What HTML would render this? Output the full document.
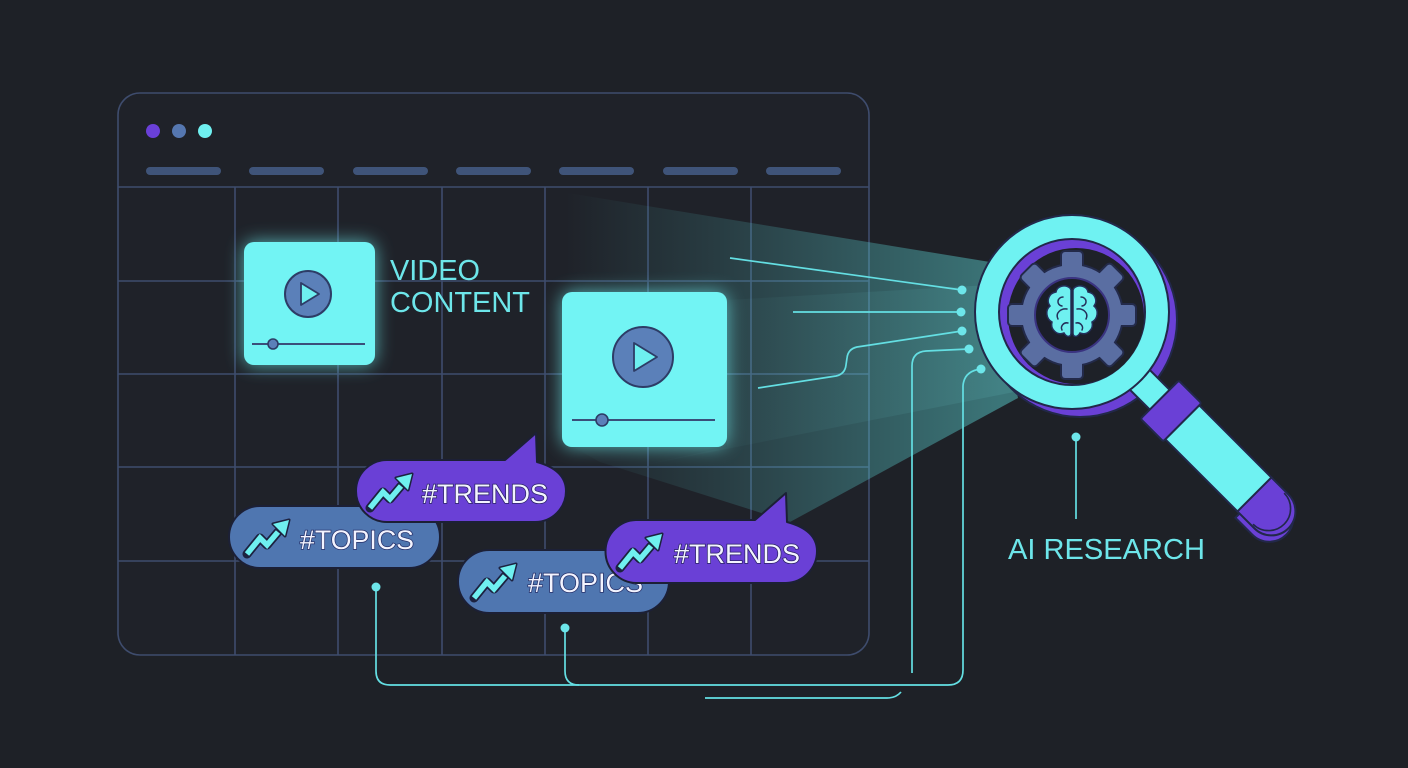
<!DOCTYPE html>
<html><head><meta charset="utf-8"><style>
html,body{margin:0;padding:0;background:#1e2127;}
svg{display:block;}
text{font-family:"Liberation Sans",sans-serif;}
</style></head><body>
<svg width="1408" height="768" viewBox="0 0 1408 768" xmlns="http://www.w3.org/2000/svg">
<defs>
<filter id="glow" x="-40%" y="-40%" width="180%" height="180%"><feGaussianBlur stdDeviation="9"/></filter>
<linearGradient id="beam" x1="565" y1="0" x2="1000" y2="0" gradientUnits="userSpaceOnUse">
<stop offset="0" stop-color="#5fdcdc" stop-opacity="0"/>
<stop offset="0.35" stop-color="#5fdcdc" stop-opacity="0.14"/>
<stop offset="1" stop-color="#5fdcdc" stop-opacity="0.45"/>
</linearGradient>
<linearGradient id="beam2" x1="620" y1="0" x2="1010" y2="0" gradientUnits="userSpaceOnUse">
<stop offset="0" stop-color="#7ff0f0" stop-opacity="0.0"/>
<stop offset="1" stop-color="#7ff0f0" stop-opacity="0.10"/>
</linearGradient>
</defs>
<rect width="1408" height="768" fill="#1e2127"/>

<!-- browser frame -->
<rect x="118" y="93" width="751" height="562" rx="22" fill="#1f2229" stroke="#3e4c6d" stroke-width="1.6"/>
<circle cx="153" cy="131" r="7" fill="#6a40d8"/>
<circle cx="179" cy="131" r="7" fill="#5577b0"/>
<circle cx="205" cy="131" r="7" fill="#6ff0f0"/>
<g fill="#3f5479">
<rect x="146" y="167" width="75" height="8" rx="4"/>
<rect x="249" y="167" width="75" height="8" rx="4"/>
<rect x="353" y="167" width="75" height="8" rx="4"/>
<rect x="456" y="167" width="75" height="8" rx="4"/>
<rect x="559" y="167" width="75" height="8" rx="4"/>
<rect x="663" y="167" width="75" height="8" rx="4"/>
<rect x="766" y="167" width="75" height="8" rx="4"/>
</g>
<g stroke="#3e4c6d" stroke-width="1.6" fill="none">
<line x1="118" y1="187" x2="869" y2="187"/>
<line x1="118" y1="281" x2="869" y2="281"/>
<line x1="118" y1="374" x2="869" y2="374"/>
<line x1="118" y1="467" x2="869" y2="467"/>
<line x1="118" y1="561" x2="869" y2="561"/>
<line x1="235" y1="187" x2="235" y2="655"/>
<line x1="338" y1="187" x2="338" y2="655"/>
<line x1="442" y1="187" x2="442" y2="655"/>
<line x1="545" y1="187" x2="545" y2="655"/>
<line x1="648" y1="187" x2="648" y2="655"/>
<line x1="751" y1="187" x2="751" y2="655"/>
</g>

<!-- beam -->
<polygon points="568,193 990,262 1018,398 790,522 600,462 560,440" fill="url(#beam)"/>
<polygon points="727,300 990,285 1014,392 620,470 727,447" fill="url(#beam2)"/>

<!-- video card 1 -->
<rect x="244" y="242" width="131" height="123" rx="10" fill="#6ff2f2" opacity="0.7" filter="url(#glow)"/>
<rect x="244" y="242" width="131" height="123" rx="10" fill="#72f4f4"/>
<circle cx="308" cy="294" r="23" fill="#5b80b9" stroke="#2d3c66" stroke-width="2"/>
<polygon points="301,283 301,305 319,294" fill="#6ef0f0" stroke="#2d3c66" stroke-width="1.8" stroke-linejoin="round"/>
<line x1="252" y1="344" x2="365" y2="344" stroke="#3a4f7a" stroke-width="2"/>
<circle cx="273" cy="344" r="5" fill="#5b80b9" stroke="#2d3c66" stroke-width="1.6"/>

<text x="390" y="280" font-size="29" fill="#6de6ea" textLength="90" lengthAdjust="spacingAndGlyphs">VIDEO</text>
<text x="390" y="312" font-size="29" fill="#6de6ea" textLength="140" lengthAdjust="spacingAndGlyphs">CONTENT</text>

<!-- video card 2 -->
<rect x="562" y="292" width="165" height="155" rx="10" fill="#6ff2f2" opacity="0.7" filter="url(#glow)"/>
<rect x="562" y="292" width="165" height="155" rx="10" fill="#72f4f4"/>
<circle cx="643" cy="357" r="30" fill="#5b80b9" stroke="#2d3c66" stroke-width="2"/>
<polygon points="634,343 634,371 657,357" fill="#6ef0f0" stroke="#2d3c66" stroke-width="1.8" stroke-linejoin="round"/>
<line x1="572" y1="420" x2="715" y2="420" stroke="#3a4f7a" stroke-width="2"/>
<circle cx="602" cy="420" r="6" fill="#5b80b9" stroke="#2d3c66" stroke-width="1.6"/>

<!-- connectors -->
<g stroke="#64dfe3" stroke-width="1.7" fill="none">
<path d="M730,258 L962,290"/>
<path d="M793,312 L961,312"/>
<path d="M758,388 L836,376 Q845,374 846,365 L847,358 Q848,349 857,347 L962,331"/>
<path d="M969,349 L926,351 Q912,352 912,366 L912,673"/>
<path d="M981,369 Q964,371 963,386 L963,670 Q963,685 948,685 L390,685 Q376,685 376,671 L376,587"/>
<path d="M565,628 L565,671 Q565,685 579,685"/>
<path d="M705,698 L887,698 Q896,698 901,692"/>
<path d="M1076,437 L1076,519"/>
</g>
<g fill="#6de6ea">
<circle cx="962" cy="290" r="4.5"/>
<circle cx="961" cy="312" r="4.5"/>
<circle cx="962" cy="331" r="4.5"/>
<circle cx="969" cy="349" r="4.5"/>
<circle cx="981" cy="369" r="4.5"/>
<circle cx="376" cy="587" r="4.5"/>
<circle cx="565" cy="628" r="4.5"/>
<circle cx="1076" cy="437" r="4.5"/>
</g>

<!-- TOPICS 1 -->
<rect x="229" y="506" width="211" height="62" rx="31" fill="#4f76b0" stroke="#1c2036" stroke-width="2"/>
<g transform="translate(247,554)">
<polyline points="0,0 13,-16 20,-9 31,-22" fill="none" stroke="#1c2240" stroke-width="9" stroke-linejoin="round" stroke-linecap="round"/>
<polygon points="42,-34 26,-30 38,-18" fill="#1c2240" stroke="#1c2240" stroke-width="3" stroke-linejoin="round"/>
<polyline points="0,0 13,-16 20,-9 31,-22" fill="none" stroke="#6ff0f0" stroke-width="5.5"/>
<polygon points="42,-34 26,-30 38,-18" fill="#6ff0f0"/>
</g>
<text x="300" y="549" font-size="27" fill="#f3f4ff" stroke="#26306a" stroke-width="1.5" paint-order="stroke" textLength="114" lengthAdjust="spacingAndGlyphs">#TOPICS</text>

<!-- TRENDS 1 -->
<path d="M387,460 L505,460 L536,433 L537,462 Q566,470 566,491 A31,31 0 0 1 535,522 L387,522 A31,31 0 0 1 387,460 Z" fill="#6a40d6" stroke="#1c2036" stroke-width="2" stroke-linejoin="round"/>
<g transform="translate(370,508)">
<polyline points="0,0 13,-16 20,-9 31,-22" fill="none" stroke="#1c2240" stroke-width="9" stroke-linejoin="round" stroke-linecap="round"/>
<polygon points="42,-34 26,-30 38,-18" fill="#1c2240" stroke="#1c2240" stroke-width="3" stroke-linejoin="round"/>
<polyline points="0,0 13,-16 20,-9 31,-22" fill="none" stroke="#6ff0f0" stroke-width="5.5"/>
<polygon points="42,-34 26,-30 38,-18" fill="#6ff0f0"/>
</g>
<text x="422" y="503" font-size="27" fill="#f3f4ff" stroke="#2a2266" stroke-width="1.5" paint-order="stroke" textLength="126" lengthAdjust="spacingAndGlyphs">#TRENDS</text>

<!-- TOPICS 2 -->
<rect x="458" y="550" width="211" height="63" rx="31.5" fill="#4f76b0" stroke="#1c2036" stroke-width="2"/>
<g transform="translate(474,598)">
<polyline points="0,0 13,-16 20,-9 31,-22" fill="none" stroke="#1c2240" stroke-width="9" stroke-linejoin="round" stroke-linecap="round"/>
<polygon points="42,-34 26,-30 38,-18" fill="#1c2240" stroke="#1c2240" stroke-width="3" stroke-linejoin="round"/>
<polyline points="0,0 13,-16 20,-9 31,-22" fill="none" stroke="#6ff0f0" stroke-width="5.5"/>
<polygon points="42,-34 26,-30 38,-18" fill="#6ff0f0"/>
</g>
<text x="528" y="592" font-size="27" fill="#f3f4ff" stroke="#26306a" stroke-width="1.5" paint-order="stroke" textLength="115" lengthAdjust="spacingAndGlyphs">#TOPICS</text>

<!-- TRENDS 2 -->
<path d="M637,520 L755,520 L786,493 L787,522 Q817,530 817,551 A32,32 0 0 1 786,583 L637,583 A31.5,31.5 0 0 1 637,520 Z" fill="#6a40d6" stroke="#1c2036" stroke-width="2" stroke-linejoin="round"/>
<g transform="translate(620,568)">
<polyline points="0,0 13,-16 20,-9 31,-22" fill="none" stroke="#1c2240" stroke-width="9" stroke-linejoin="round" stroke-linecap="round"/>
<polygon points="42,-34 26,-30 38,-18" fill="#1c2240" stroke="#1c2240" stroke-width="3" stroke-linejoin="round"/>
<polyline points="0,0 13,-16 20,-9 31,-22" fill="none" stroke="#6ff0f0" stroke-width="5.5"/>
<polygon points="42,-34 26,-30 38,-18" fill="#6ff0f0"/>
</g>
<text x="674" y="563" font-size="27" fill="#f3f4ff" stroke="#2a2266" stroke-width="1.5" paint-order="stroke" textLength="126" lengthAdjust="spacingAndGlyphs">#TRENDS</text>

<!-- magnifier -->
<circle cx="1080" cy="320" r="97" fill="#6a40d6" stroke="#22284a" stroke-width="2"/>
<g transform="translate(1072,312) rotate(45)">
<rect x="88" y="-14" width="40" height="28" fill="#6ff2f2" stroke="#22284a" stroke-width="2"/>
</g>
<circle cx="1072" cy="312" r="97" fill="#6ff2f2" stroke="#22284a" stroke-width="2"/>
<circle cx="1072" cy="312" r="73" fill="#6a40d6" stroke="#22284a" stroke-width="2"/>
<circle cx="1076" cy="316" r="68" fill="#1e2128"/>
<!-- gear -->
<g transform="translate(1072,315)">
<g fill="#232a4a" stroke="#232a4a" stroke-width="4" stroke-linejoin="round">
<circle r="50"/>
<rect x="-10" y="-63" width="20" height="22" rx="3"/>
<rect x="-10" y="-63" width="20" height="22" rx="3" transform="rotate(45)"/>
<rect x="-10" y="-63" width="20" height="22" rx="3" transform="rotate(90)"/>
<rect x="-10" y="-63" width="20" height="22" rx="3" transform="rotate(135)"/>
<rect x="-10" y="-63" width="20" height="22" rx="3" transform="rotate(180)"/>
<rect x="-10" y="-63" width="20" height="22" rx="3" transform="rotate(225)"/>
<rect x="-10" y="-63" width="20" height="22" rx="3" transform="rotate(270)"/>
<rect x="-10" y="-63" width="20" height="22" rx="3" transform="rotate(315)"/>
</g>
<g fill="#5a6ea2">
<circle r="50"/>
<rect x="-10" y="-63" width="20" height="22" rx="3"/>
<rect x="-10" y="-63" width="20" height="22" rx="3" transform="rotate(45)"/>
<rect x="-10" y="-63" width="20" height="22" rx="3" transform="rotate(90)"/>
<rect x="-10" y="-63" width="20" height="22" rx="3" transform="rotate(135)"/>
<rect x="-10" y="-63" width="20" height="22" rx="3" transform="rotate(180)"/>
<rect x="-10" y="-63" width="20" height="22" rx="3" transform="rotate(225)"/>
<rect x="-10" y="-63" width="20" height="22" rx="3" transform="rotate(270)"/>
<rect x="-10" y="-63" width="20" height="22" rx="3" transform="rotate(315)"/>
</g>
<circle r="37" fill="#1b1e29" stroke="#3a3380" stroke-width="2"/>
</g>
<!-- brain -->
<g transform="translate(1072,312)" stroke="#24305a" stroke-width="1.5" stroke-linecap="round">
<g>
<path d="M -2,-24 C -7,-28 -15,-26 -16,-20 C -23,-19 -26,-11 -22,-6 C -27,-2 -26,7 -20,10 C -22,17 -15,24 -8,21 C -5,26 -1,25 -1,21 L -1,-22 Z" fill="#6ff0f0"/>
<path d="M -9,-15 C -15,-15 -16,-7 -10,-6 M -5,-3 C -11,-4 -17,1 -14,7 M -4,11 C -8,10 -12,14 -10,18" fill="none"/>
</g>
<g transform="scale(-1,1)">
<path d="M -2,-24 C -7,-28 -15,-26 -16,-20 C -23,-19 -26,-11 -22,-6 C -27,-2 -26,7 -20,10 C -22,17 -15,24 -8,21 C -5,26 -1,25 -1,21 L -1,-22 Z" fill="#6ff0f0"/>
<path d="M -9,-15 C -15,-15 -16,-7 -10,-6 M -5,-3 C -11,-4 -17,1 -14,7 M -4,11 C -8,10 -12,14 -10,18" fill="none"/>
</g>
</g>
<!-- handle -->
<g transform="translate(1072,312) rotate(45)" stroke="#22284a" stroke-width="2" stroke-linejoin="round">
<path d="M258,-24 L282,-24 A24,24 0 0 1 282,24 L258,24 Z" fill="#6a40d6" transform="translate(3,6)"/>
<rect x="155" y="-24" width="105" height="48" fill="#6ff2f2"/>
<path d="M258,-24 L282,-24 A24,24 0 0 1 282,24 L258,24 Z" fill="#6a40d6"/>
<path d="M262,-22 A22,22 0 0 1 262,22" fill="none" transform="translate(16,0)" stroke-width="1.6"/>
<rect x="124" y="-27" width="32" height="54" rx="2" fill="#6a40d6"/>
</g>

<text x="1008" y="559" font-size="29" fill="#6de6ea" textLength="197" lengthAdjust="spacingAndGlyphs">AI RESEARCH</text>
</svg>
</body></html>
